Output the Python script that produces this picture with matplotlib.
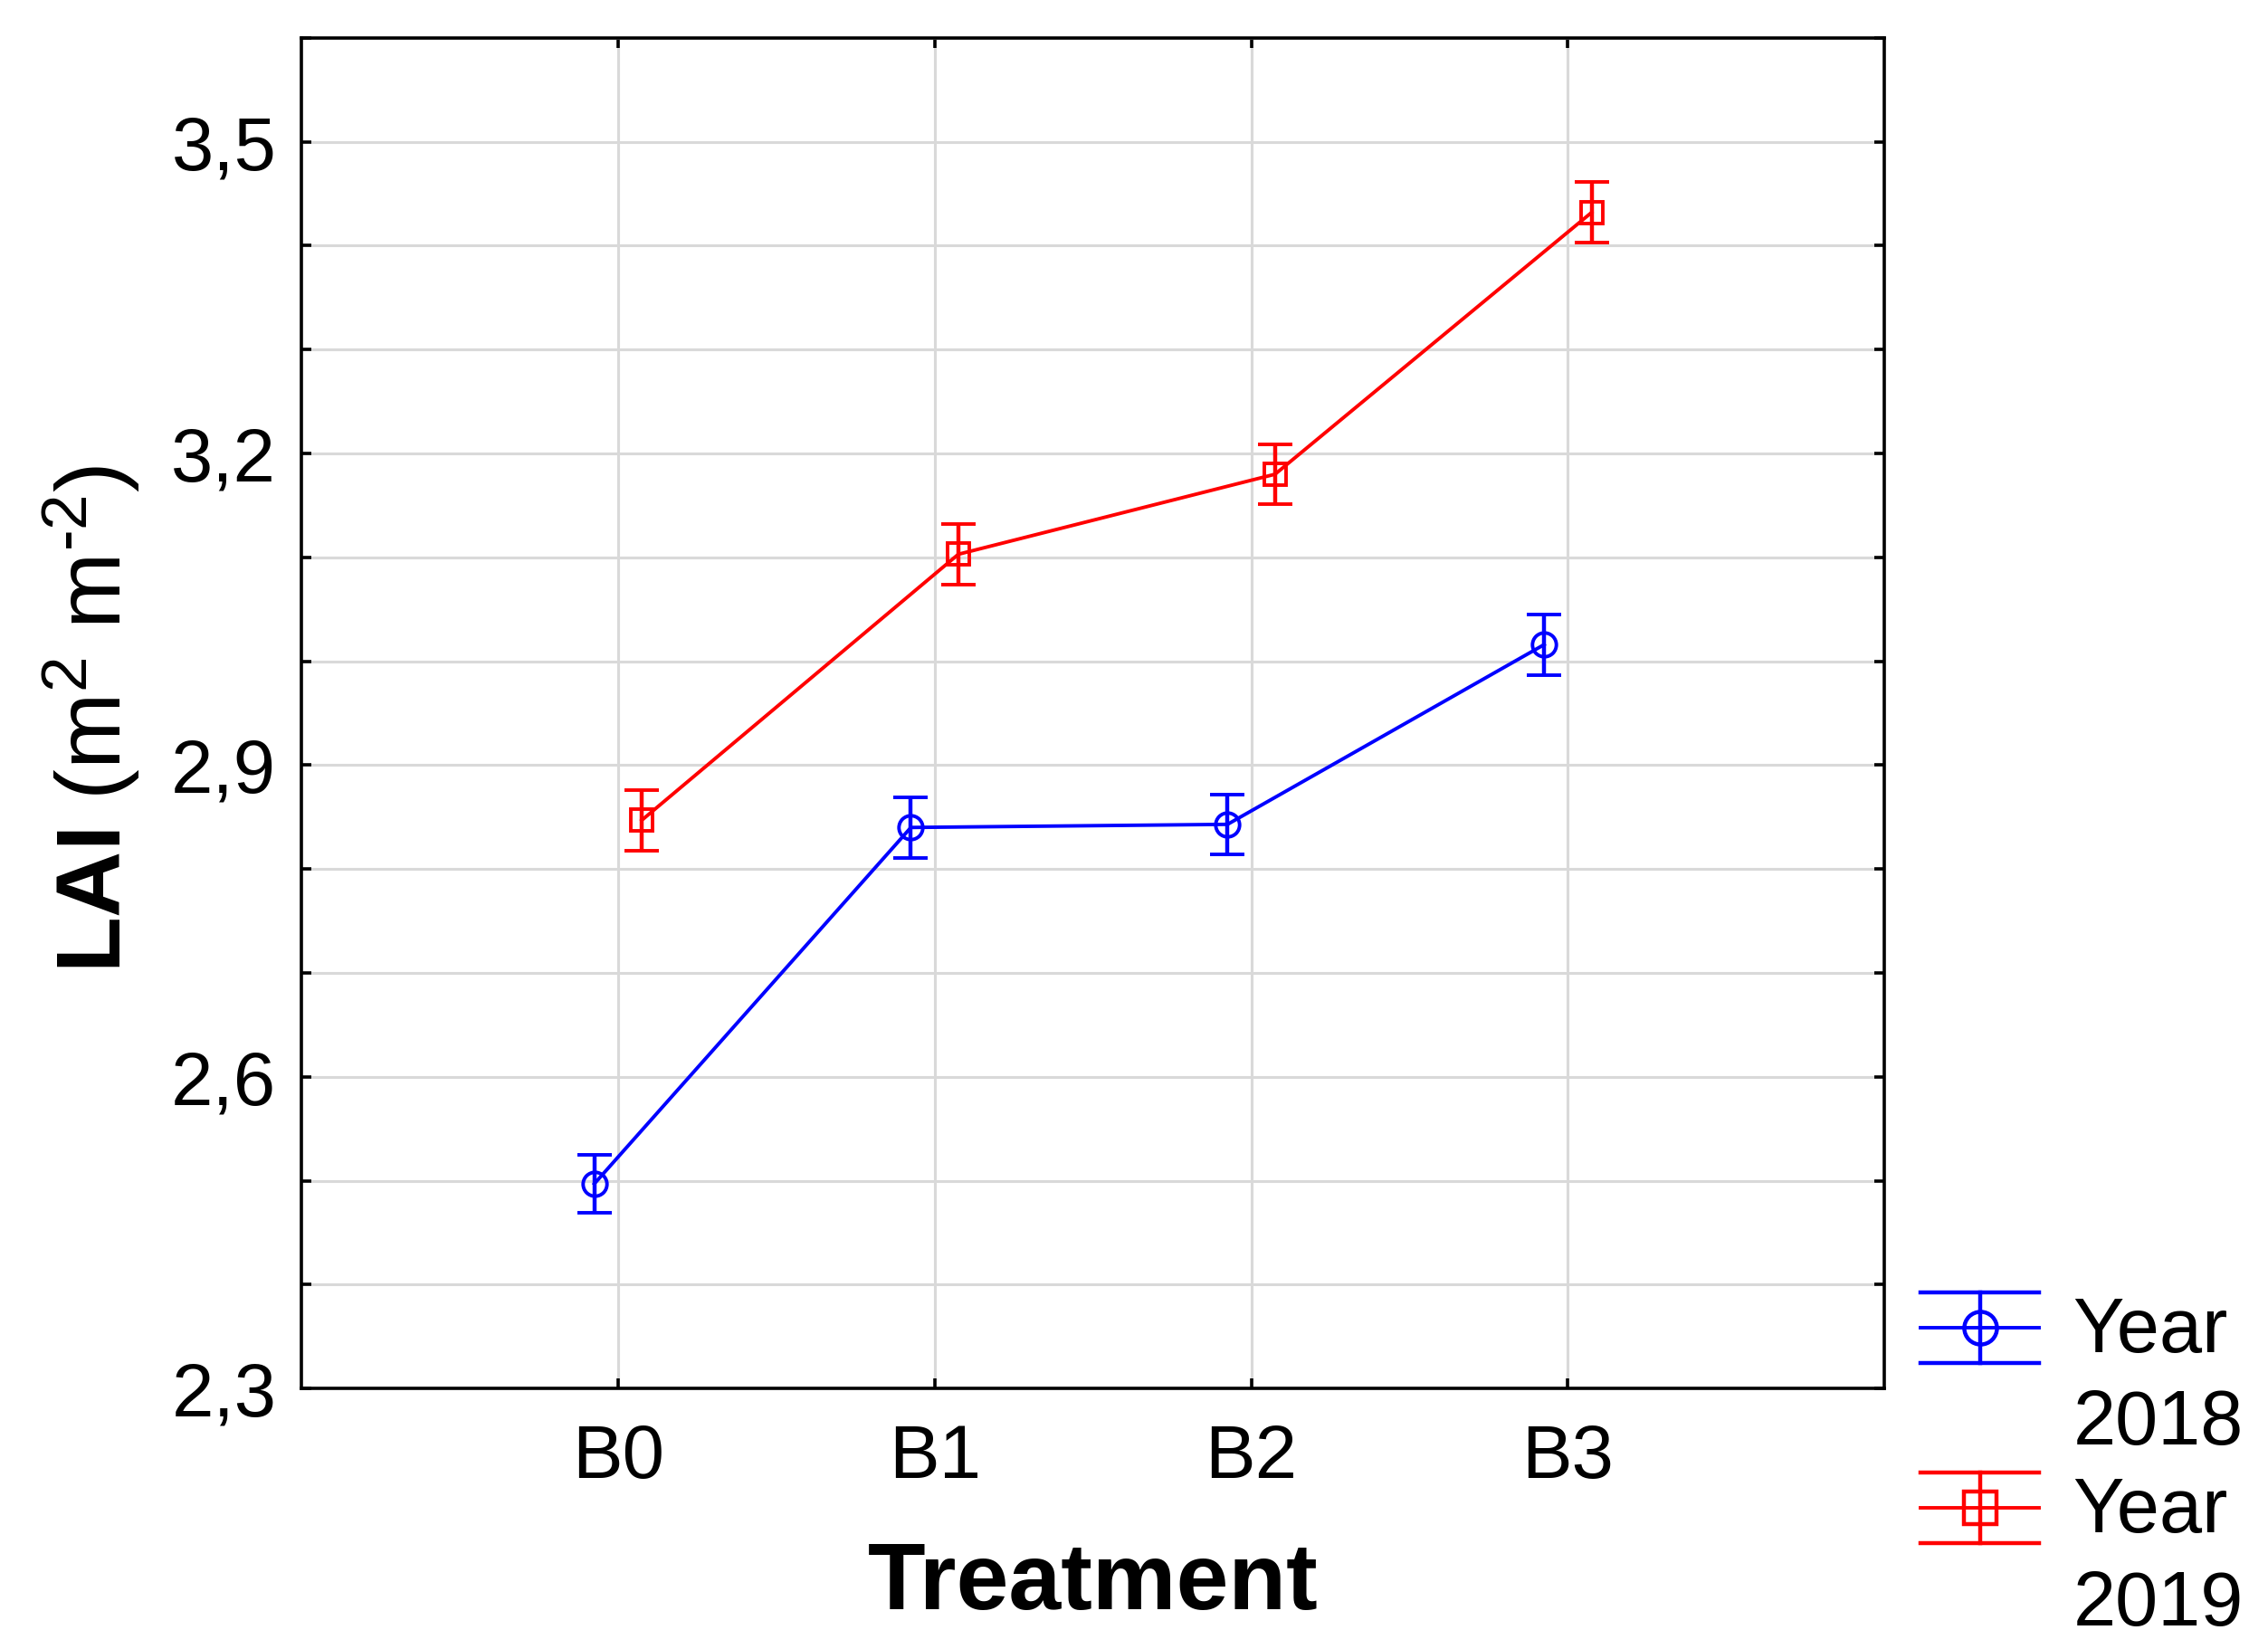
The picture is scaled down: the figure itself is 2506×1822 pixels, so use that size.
import numpy as np
import matplotlib
matplotlib.use("Agg")
import matplotlib.pyplot as plt
from matplotlib.ticker import FixedLocator, FuncFormatter
from matplotlib.legend_handler import HandlerBase
from matplotlib.lines import Line2D

plt.rcParams['font.family'] = ['Liberation Sans', 'DejaVu Sans']
plt.rcParams['mathtext.fontset'] = 'custom'
plt.rcParams['mathtext.rm'] = 'Liberation Sans'
plt.rcParams['mathtext.bf'] = 'Liberation Sans:bold'
plt.rcParams['mathtext.it'] = 'Liberation Sans:italic'

# ---- data ----
treatments = ["B0", "B1", "B2", "B3"]
lai_2018 = [2.497, 2.840, 2.843, 3.016]
err_2018 = [0.028, 0.029, 0.029, 0.029]
lai_2019 = [2.847, 3.103, 3.180, 3.432]
err_2019 = [0.029, 0.029, 0.029, 0.029]
series_labels = ["Year\n2018", "Year\n2019"]
y_ticks = [2.3, 2.4, 2.5, 2.6, 2.7, 2.8, 2.9, 3.0, 3.1, 3.2, 3.3, 3.4, 3.5, 3.6]
y_labeled = [2.3, 2.6, 2.9, 3.2, 3.5]

BLUE = "#0000FF"
RED = "#FF0000"

fig = plt.figure(figsize=(25.06, 18.22), dpi=100)
ax = fig.add_axes([0.1329, 0.158, 0.698, 0.819])

x = np.arange(len(treatments))
off = 0.075

eb1 = ax.errorbar(x - off, lai_2018, yerr=err_2018, fmt='-o', color=BLUE,
                  mfc='none', mec=BLUE, ms=19, mew=2.8, lw=2.8,
                  elinewidth=3.2, capsize=14, capthick=3.2, zorder=3)
eb2 = ax.errorbar(x + off, lai_2019, yerr=err_2019, fmt='-s', color=RED,
                  mfc='none', mec=RED, ms=17, mew=2.8, lw=2.8,
                  elinewidth=3.2, capsize=14, capthick=3.2, zorder=3)

ax.set_xlim(-1, 4)
ax.set_ylim(2.3, 3.6)
ax.set_xticks(x)
ax.set_xticklabels(treatments)
ax.yaxis.set_major_locator(FixedLocator(y_ticks))


def yfmt(v, pos):
    for t in y_labeled:
        if abs(v - t) < 1e-6:
            return f"{v:.1f}".replace(".", ",")
    return ""


ax.yaxis.set_major_formatter(FuncFormatter(yfmt))

ax.grid(True, color='#d9d9d9', lw=2.2)
ax.set_axisbelow(True)

for s in ax.spines.values():
    s.set_linewidth(2.6)
    s.set_color('black')

ax.tick_params(axis='both', direction='in', length=8, width=2.6,
               top=True, right=True, labelsize=60, colors='black')
ax.tick_params(axis='x', pad=27)
ax.tick_params(axis='y', pad=20)

ax.set_xlabel("Treatment", fontsize=75, fontweight='bold')
ax.xaxis.set_label_coords(0.5, -0.113)
ax.set_ylabel(r'$\mathbf{LAI}\ (\mathrm{m}^{2}\ \mathrm{m}^{\text{-}2})$', fontsize=73)
ax.yaxis.set_label_coords(-0.100, 0.496)

LEG_LS = 1.36


class HandlerYear(HandlerBase):
    def __init__(self, marker, color, ms):
        super().__init__()
        self.marker = marker
        self.color = color
        self.ms = ms

    def create_artists(self, legend, orig_handle, xdescent, ydescent,
                       width, height, fontsize, trans):
        yc = height / 2 - ydescent + 0.5 * LEG_LS * fontsize
        half = 0.46 * fontsize
        x0 = -xdescent
        x1 = x0 + width
        xm = (x0 + x1) / 2
        arts = [
            Line2D([x0, x1], [yc, yc], color=self.color, lw=2.8),
            Line2D([x0, x1], [yc + half, yc + half], color=self.color, lw=3.2),
            Line2D([x0, x1], [yc - half, yc - half], color=self.color, lw=3.2),
            Line2D([xm, xm], [yc - half, yc + half], color=self.color, lw=3.2),
            Line2D([xm], [yc], marker=self.marker, ms=self.ms, mfc='none',
                   mec=self.color, mew=3.2, ls='none'),
        ]
        for a in arts:
            a.set_transform(trans)
        return arts


leg = fig.legend([eb1, eb2], series_labels,
                 handler_map={eb1: HandlerYear('o', BLUE, 26),
                              eb2: HandlerYear('s', RED, 26)},
                 loc='upper left', bbox_to_anchor=(2122 / 2506, 0.214),
                 frameon=False, fontsize=61, borderpad=0, borderaxespad=0,
                 handlelength=1.55, handletextpad=0.44, labelspacing=0.2)
for t in leg.get_texts():
    t.set_linespacing(LEG_LS)

fig.savefig("out.png", dpi=100, facecolor='white')
